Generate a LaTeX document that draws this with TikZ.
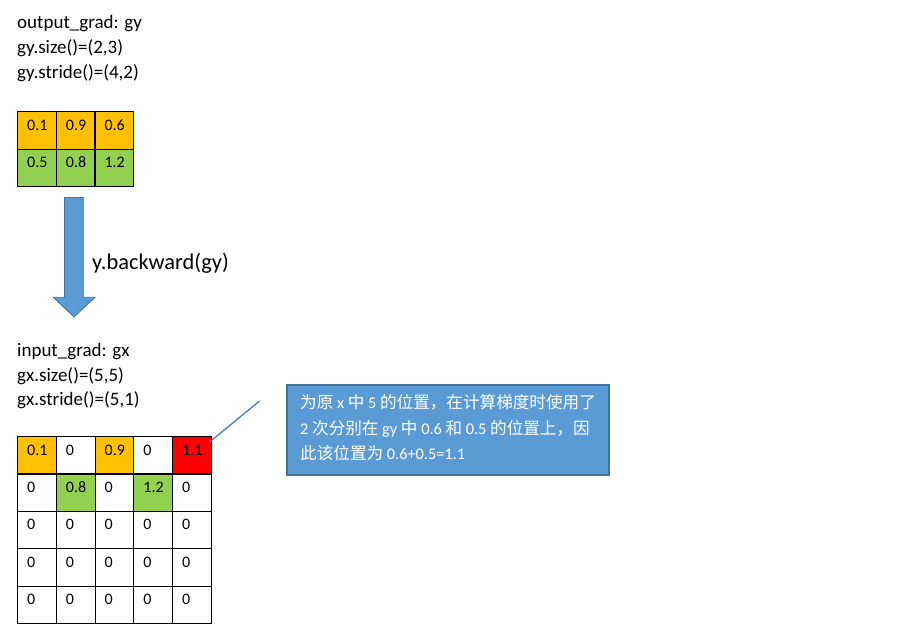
\documentclass[tikz,border=0pt]{standalone}
\usepackage{fontspec}
\setmainfont{Carlito}
\newfontfamily\cjk{Noto Sans CJK SC}
\definecolor{cOr}{HTML}{FFC000}
\definecolor{cGr}{HTML}{92D050}
\definecolor{cRd}{HTML}{FF0000}
\definecolor{cWh}{HTML}{FFFFFF}
\definecolor{boxfill}{HTML}{5B9BD5}
\definecolor{boxline}{HTML}{41719C}
\definecolor{leadline}{HTML}{4A7EBB}
\begin{document}
\begin{tikzpicture}[x=1pt,y=-1pt,
  txt/.style={anchor=base west,inner sep=0pt,font=\fontsize{19}{22}\selectfont},
  cell/.style={draw=black,line width=1.2pt,anchor=north west,inner sep=0pt,minimum width=38.8pt,minimum height=37.4pt},
  num/.style={anchor=base west,inner sep=0pt,font=\fontsize{16}{19}\selectfont},
  note/.style={draw=boxline,line width=1.8pt,fill=boxfill,anchor=north west,inner sep=0pt,minimum width=322pt,minimum height=90pt},
  notetxt/.style={anchor=base west,inner sep=0pt,text=white,font=\fontsize{16.3}{19}\selectfont}]
\useasboundingbox (0,0) rectangle (915,628);
% top text
\node[txt] (o1) at (17,29) {output\_grad: gy};
\node[txt] (o2) at (17,54) {gy.size()=(2,3)};
\node[txt] (o3) at (17,79) {gy.stride()=(4,2)};
% top matrix
\foreach \c/\v in {1/0.1,2/0.9,3/0.6}{
  \node[cell,fill=cOr,minimum width=38.7pt,minimum height=37.3pt] (t-1-\c) at ({17+(\c-1)*38.7},111.3) {};
  \node[num] (tt-1-\c) at ({27+(\c-1)*38.7},130.3) {\v};
}
\foreach \c/\v in {1/0.5,2/0.8,3/1.2}{
  \node[cell,fill=cGr,minimum width=38.7pt,minimum height=37.3pt] (t-2-\c) at ({17+(\c-1)*38.7},148.6) {};
  \node[num] (tt-2-\c) at ({27+(\c-1)*38.7},167.6) {\v};
}
% block arrow
\path[fill=boxfill,draw=boxline,line width=0.8pt]
  (64.5,197.5) -- (83.3,197.5) -- (83.3,297.3) -- (95,297.3) -- (74,317) -- (53.3,297.3) -- (64.5,297.3) -- cycle;
\node[anchor=base west,inner sep=0pt,font=\fontsize{22.4}{26}\selectfont] (bw) at (92,269.5) {y.backward(gy)};
% bottom text
\node[txt] (i1) at (17,356.5) {input\_grad: gx};
\node[txt] (i2) at (17,381) {gx.size()=(5,5)};
\node[txt] (i3) at (17,405.5) {gx.stride()=(5,1)};
% bottom matrix
\foreach \r/\row in {1/{0.1/cOr,0/cWh,0.9/cOr,0/cWh,1.1/cRd},
                    2/{0/cWh,0.8/cGr,0/cWh,1.2/cGr,0/cWh},
                    3/{0/cWh,0/cWh,0/cWh,0/cWh,0/cWh},
                    4/{0/cWh,0/cWh,0/cWh,0/cWh,0/cWh},
                    5/{0/cWh,0/cWh,0/cWh,0/cWh,0/cWh}}{
  \foreach \v/\f [count=\c] in \row {
    \node[cell,fill=\f] (b-\r-\c) at ({17+(\c-1)*38.75},{436+(\r-1)*37.4}) {};
    \node[num] (bt-\r-\c) at ({27+(\c-1)*38.75},{455+(\r-1)*37.4}) {\v};
  }
}
% callout
\node[note] (box) at (286,384) {};
\node[notetxt] (n1) at (300,408) {{\cjk\fontsize{16.6}{19}\selectfont 为原} x {\cjk\fontsize{16.6}{19}\selectfont 中} 5 {\cjk\fontsize{16.6}{19}\selectfont 的位置，在计算梯度时使用了}};
\node[notetxt] (n2) at (300,434) {2 {\cjk\fontsize{16.6}{19}\selectfont 次分别在} gy {\cjk\fontsize{16.6}{19}\selectfont 中} 0.6 {\cjk\fontsize{16.6}{19}\selectfont 和} 0.5 {\cjk\fontsize{16.6}{19}\selectfont 的位置上，因}};
\node[notetxt] (n3) at (300,459.5) {{\cjk\fontsize{16.6}{19}\selectfont 此该位置为} 0.6+0.5=1.1};
\coordinate (lead) at (259.5,401);
\draw[leadline,line width=1.3pt] (b-1-5.north east) ++(-3,6.5) -- (lead);
\end{tikzpicture}
\end{document}
